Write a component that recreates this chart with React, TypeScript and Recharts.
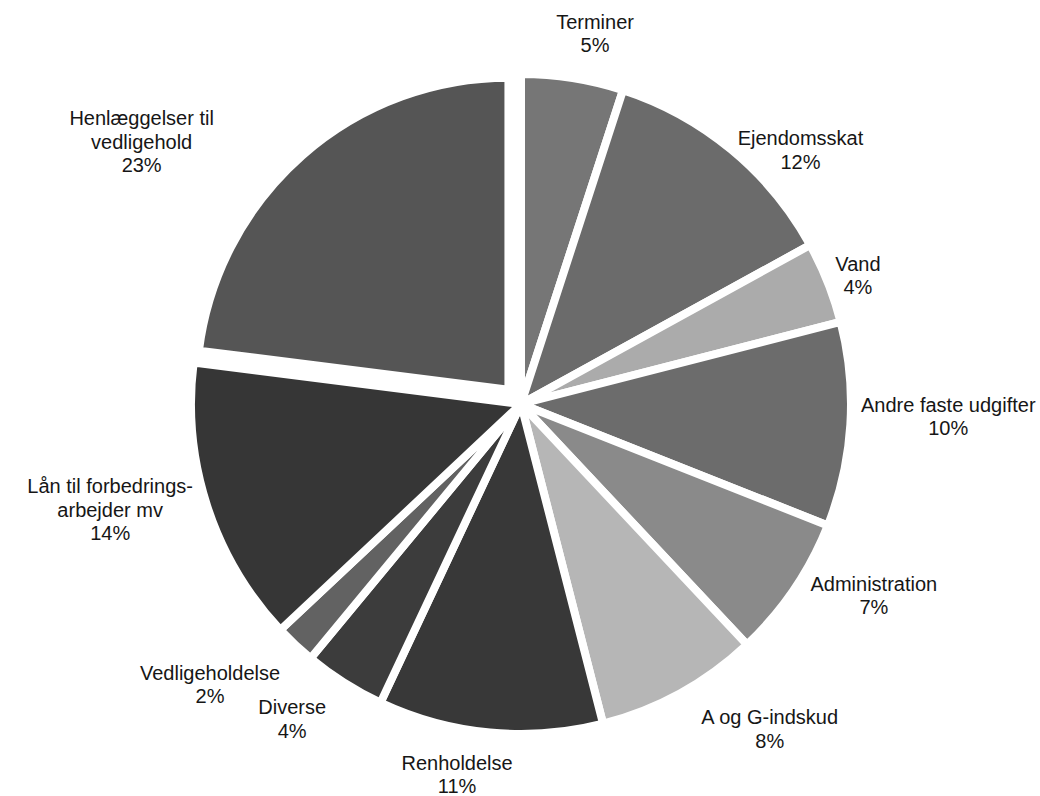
import React from 'react';
import { PieChart, Pie, Cell } from 'recharts';

const categories = [
  'Terminer',
  'Ejendomsskat',
  'Vand',
  'Andre faste udgifter',
  'Administration',
  'A og G-indskud',
  'Renholdelse',
  'Diverse',
  'Vedligeholdelse',
  'Lån til forbedrings-\narbejder mv',
  'Henlæggelser til\nvedligehold',
];
const shares = [5, 12, 4, 10, 7, 8, 11, 4, 2, 14, 23];
const sliceColors = [
  '#767676', '#6b6b6b', '#ababab', '#6c6c6c', '#8a8a8a', '#b6b6b6',
  '#383838', '#3c3c3c', '#626262', '#363636', '#555555',
];

// the one exploded slice
const EXPLODED = 10;

// label nudges (px) from the default radial spot, to mimic Excel's "best fit"
const labelNudge: [number, number][] = [
  [16, -4], [43, 32], [-8, 8], [57, -11], [46, -17], [70, 0],
  [-29, 1], [-30, 2], [-57, 10], [-58, -9], [-134, 16],
];

const data = categories.map((name, i) => ({ name, value: shares[i] }));

const CX = 521;
const CY = 404;
const R = 330;
const GAP = 8;
const RAD = Math.PI / 180;

const total = shares.reduce((a, b) => a + b, 0);
const before = shares.slice(0, EXPLODED).reduce((a, b) => a + b, 0);
// clockwise from 12 o'clock
const explodedMid = ((before + shares[EXPLODED] / 2) / total) * 360;
const SHIFT = 19;
const ex = CX + SHIFT * Math.sin(explodedMid * RAD);
const ey = CY - SHIFT * Math.cos(explodedMid * RAD);

const renderLabel = (props: any) => {
  const { cx, cy, midAngle, outerRadius, index, value } = props;
  const r = outerRadius + 41;
  const [dx, dy] = labelNudge[index];
  const x = cx + r * Math.cos(-midAngle * RAD) + dx;
  const y = cy + r * Math.sin(-midAngle * RAD) + dy;
  const lines = [...categories[index].split('\n'), `${value}%`];
  const lh = 23.5;
  return (
    <text
      key={`lbl-${index}`}
      x={x}
      y={y}
      textAnchor="middle"
      fill="#161616"
      fontSize={20}
      fontFamily="'Liberation Sans', Arial, sans-serif"
    >
      {lines.map((t, i) => (
        <tspan key={i} x={x} y={y + (i - (lines.length - 1) / 2) * lh} dominantBaseline="central">
          {t}
        </tspan>
      ))}
    </text>
  );
};

export default function App() {
  return (
    <div style={{ position: 'absolute', left: 0, top: 0, width: 1040, height: 796, background: '#fff' }}>
      <PieChart width={1040} height={796} margin={{ top: 0, right: 0, bottom: 0, left: 0 }}>
        <Pie
          data={data}
          dataKey="value"
          nameKey="name"
          cx={CX}
          cy={CY}
          outerRadius={R}
          startAngle={90}
          endAngle={-270}
          stroke="#ffffff"
          strokeWidth={GAP}
          label={renderLabel}
          labelLine={false}
          isAnimationActive={false}
        >
          {data.map((d, i) => (
            <Cell
              key={d.name}
              fill={i === EXPLODED ? 'none' : sliceColors[i]}
              stroke={i === EXPLODED ? 'none' : '#ffffff'}
            />
          ))}
        </Pie>
        <Pie
          data={data}
          dataKey="value"
          nameKey="name"
          cx={ex}
          cy={ey}
          outerRadius={312}
          startAngle={90}
          endAngle={-270}
          stroke="#ffffff"
          strokeWidth={GAP}
          labelLine={false}
          isAnimationActive={false}
        >
          {data.map((d, i) => (
            <Cell
              key={d.name}
              fill={i === EXPLODED ? sliceColors[i] : 'none'}
              stroke={i === EXPLODED ? '#ffffff' : 'none'}
            />
          ))}
        </Pie>
      </PieChart>
    </div>
  );
}
